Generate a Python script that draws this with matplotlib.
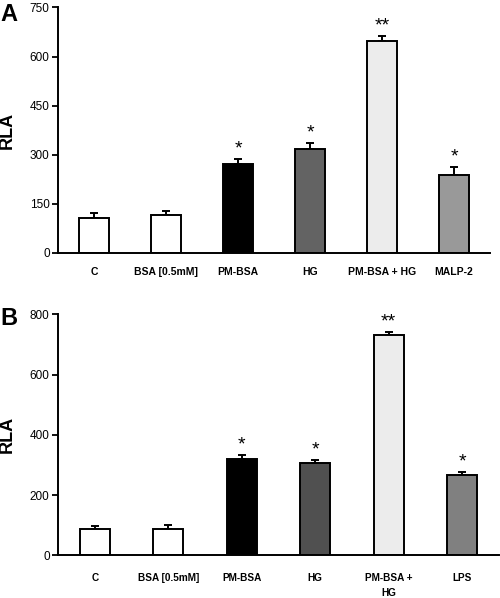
import matplotlib
matplotlib.use("Agg")
import matplotlib.pyplot as plt
from matplotlib import font_manager

# ---- data ----
cats_a = ["C", "BSA [0.5mM]", "PM-BSA", "HG", "PM-BSA + HG", "MALP-2"]
vals_a = [107, 116, 272, 319, 647, 239]
err_a = [15, 13, 15, 16, 17, 25]
sig_a = ["", "", "*", "*", "**", "*"]
colors_a = ["#ffffff", "#ffffff", "#000000", "#636363", "#ececec", "#999999"]
yticks_a = [0, 150, 300, 450, 600, 750]

cats_b = ["C", "BSA [0.5mM]", "PM-BSA", "HG", "PM-BSA +\nHG", "LPS"]
vals_b = [86, 86, 320, 307, 731, 267]
err_b = [10, 14, 13, 10, 10, 9]
sig_b = ["", "", "*", "*", "**", "*"]
colors_b = ["#ffffff", "#ffffff", "#000000", "#505050", "#ececec", "#808080"]
yticks_b = [0, 200, 400, 600, 800]

plt.rcParams["font.family"] = ["Liberation Sans", "DejaVu Sans"]

fig = plt.figure(figsize=(5.0, 5.98), dpi=100)
ax_a = fig.add_axes([0.116, 0.577, 0.864, 0.4105])
ax_b = fig.add_axes([0.116, 0.0714, 0.882, 0.403])


def draw(ax, cats, vals, errs, sigs, colors, yticks, ymax, labfp, labpad):
    x = list(range(len(cats)))
    ax.bar(x, vals, width=0.41, color=colors, edgecolor="black", linewidth=1.4, zorder=2)
    ax.errorbar(x, vals, yerr=[[0] * len(errs), errs], fmt="none", ecolor="black",
                elinewidth=1.4, capsize=2.6, capthick=1.4, zorder=1)
    for xi, v, e, s in zip(x, vals, errs, sigs):
        if s:
            ax.annotate(s, (xi, v + e), xytext=(0, 1), textcoords="offset points",
                        ha="center", va="bottom", fontsize=14)
    ax.set_xlim(-0.5, len(cats) - 0.5)
    ax.set_ylim(0, ymax)
    ax.set_yticks(yticks)
    ax.set_xticks(x)
    ax.set_xticklabels(cats, fontproperties=labfp, linespacing=1.6)
    ax.tick_params(axis="x", length=0, pad=labpad)
    ax.tick_params(axis="y", length=4, width=1.3, labelsize=8.5, pad=2)
    for sp in ["top", "right"]:
        ax.spines[sp].set_visible(False)
    for sp in ["left", "bottom"]:
        ax.spines[sp].set_linewidth(1.4)
    ax.set_ylabel("RLA", fontweight="bold", fontsize=13, labelpad=10)


fp_a = font_manager.FontProperties(family="Liberation Sans", weight="bold", size=7.5)
fp_b = font_manager.FontProperties(family="Liberation Sans", weight="bold", size=7.2)
draw(ax_a, cats_a, vals_a, err_a, sig_a, colors_a, yticks_a, 750, fp_a, 10)
draw(ax_b, cats_b, vals_b, err_b, sig_b, colors_b, yticks_b, 800, fp_b, 13)

fig.text(0.0, 1 - 3 / 598, "A", fontsize=17, fontweight="bold", ha="left", va="top")
fig.text(0.0, 1 - 307 / 598, "B", fontsize=17, fontweight="bold", ha="left", va="top")

fig.savefig("out.png", dpi=100)
